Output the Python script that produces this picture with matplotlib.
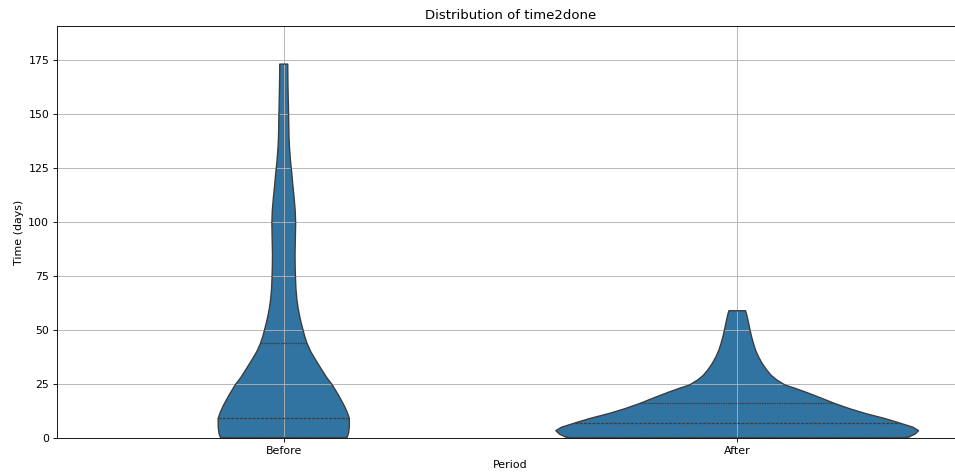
import numpy as np
import matplotlib.pyplot as plt

periods = ["Before", "After"]

# density profile (relative widths)
before_y = [0, 0.6, 2.5, 5.2, 9.1, 12, 15, 17.6, 20.5, 24.8, 28, 32, 36.1, 40, 43.8, 47,
            50, 53, 56.2, 60, 63.9, 69, 74.5, 80, 85, 92, 99.5, 105, 111.6, 117, 122.7,
            128, 134.7, 140, 145.8, 155, 161, 167, 173]
before_dens = [62.5, 63.8, 65, 65.7, 65.7, 63.5, 60.5, 57.5, 54, 48.3, 43, 37.5, 32, 27,
               23.3, 21, 19.3, 17.6, 16, 14.4, 13.2, 12.2, 11.7, 11.4, 11.3, 11.6, 11.9,
               11.5, 10.3, 9.1, 8, 6.8, 5.7, 5.2, 5, 4.6, 4.3, 4.1, 4]
before_quart = [0.6, 9.3, 44]

after_y = [0, 0.6, 1.8, 3.4, 5, 7.1, 9, 11.4, 13.5, 16, 18.5, 21, 23, 24.5, 26.9, 29,
           31.5, 34.5, 37.6, 40.5, 43.8, 47, 50, 52.5, 54.6, 57, 58.9]
after_dens = [166.7, 172.5, 178, 181.7, 176, 161.7, 148, 128, 113, 97.5, 84, 70, 58, 48,
              39.5, 34, 29.5, 25, 21.3, 18.5, 16.2, 14.3, 12.8, 11.7, 10.7, 9.5, 8.3]
after_quart = [0.6, 7, 16]

profiles = [(before_y, before_dens, before_quart), (after_y, after_dens, after_quart)]

fill = "#3274a1"
edge = "#3d3d3d"

dpi = 955 / 12
fig = plt.figure(figsize=(12, 474 / dpi), dpi=dpi)
ax = fig.add_axes([0.0597, 0.0759, 0.9497, 0.8691])

top = max(max(p[1]) for p in profiles)
for i, (ys, dens, quart) in enumerate(profiles):
    ys = np.array(ys)
    w = np.array(dens) / top * 0.4
    ax.fill_betweenx(ys, i - w, i + w, facecolor=fill, edgecolor="none", zorder=1)
    xs = np.concatenate([i - w, (i + w)[::-1], [i - w[0]]])
    yy = np.concatenate([ys, ys[::-1], [ys[0]]])
    ax.plot(xs, yy, color=edge, lw=1.25, zorder=2)
    for k, q in enumerate(quart):
        hw = np.interp(q, ys, w)
        dashes = (2.5, 1) if k == 1 else (1.25, 0.75)
        ax.plot([i - hw, i + hw], [q, q], color=edge, lw=1.1, dashes=dashes, zorder=2)

ax.set_xlim(-0.5, 1.5)
ax.set_ylim(0, 190.6)
ax.set_xticks(range(len(periods)))
ax.set_xticklabels(periods)
ax.set_yticks(np.arange(0, 176, 25))
ax.grid(True)
ax.set_title("Distribution of time2done")
ax.set_xlabel("Period")
ax.set_ylabel("Time (days)")

fig.savefig("out.png", dpi=dpi)
